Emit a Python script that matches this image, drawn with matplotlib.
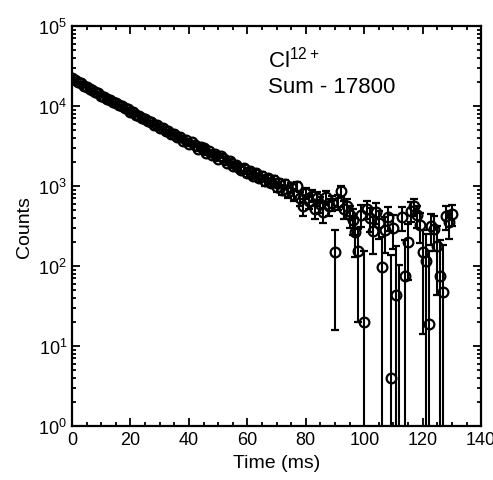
import numpy as np
import matplotlib
matplotlib.use("Agg")
import matplotlib.pyplot as plt
from matplotlib.ticker import MultipleLocator, LogLocator, NullFormatter

plt.rcParams["font.family"] = ["Liberation Sans", "DejaVu Sans"]
plt.rcParams["mathtext.fontset"] = "custom"
plt.rcParams["mathtext.rm"] = "Liberation Sans"
plt.rcParams["mathtext.it"] = "Liberation Sans"

# time bins (ms), 1 ms wide
time_ms = np.arange(0, 131)

# counts
counts = [
    22300, 20900, 19700, 19100, 17900, 17400, 16300, 15800, 14800, 14400,
    13500, 13100, 12300, 12000, 11200, 10900, 10200, 9950, 9300, 9100,
    8500, 8300, 7700, 7600, 7000, 6900, 6400, 6350, 5850, 5800,
    5350, 5300, 4850, 4900, 4450, 4450, 4050, 4100, 3700, 3750,
    3350, 3500, 3300, 2900, 3100, 2950, 2600, 2700, 2450, 2500,
    2200, 2350, 2150, 1950, 2050, 1800, 1850, 1700, 1600, 1700,
    1450, 1550, 1350, 1450, 1250, 1350, 1150, 1250, 1100, 1200,
    980, 1080, 900, 1050, 850, 960, 780, 1000, 700, 560,
    820, 650, 760, 520, 700, 600, 480, 720, 560, 620,
    150, 640, 870, 520, 560, 430, 380, 265, 154, 440,
    20, 520, 400, 275, 470, 350, 98, 280, 410, 4,
    300, 43, -30, 410, 76, 200, 490, 560, 430, 330,
    148, 117, 19, 316, 290, 178, 76, 47, 420, 355,
    450,
]

# error bars
errors = [
    200, 197, 194, 192, 189, 188, 185, 183, 181, 179,
    177, 176, 173, 173, 170, 169, 167, 167, 165, 164,
    162, 162, 160, 159, 157, 157, 156, 155, 154, 154,
    152, 152, 150, 151, 149, 149, 148, 148, 147, 147,
    145, 146, 145, 144, 145, 144, 143, 143, 142, 142,
    141, 142, 141, 141, 141, 140, 140, 140, 139, 140,
    139, 139, 138, 139, 138, 138, 138, 138, 137, 138,
    137, 137, 137, 137, 137, 137, 136, 137, 136, 136,
    136, 136, 136, 135, 136, 136, 135, 136, 136, 136,
    134, 136, 137, 135, 136, 135, 135, 134, 134, 135,
    133, 135, 135, 134, 135, 135, 134, 134, 135, 133,
    135, 134, 133, 135, 134, 134, 135, 136, 135, 135,
    134, 134, 133, 135, 134, 134, 134, 134, 135, 135,
    135,
]

fig = plt.figure(figsize=(4.93, 4.81), dpi=100)
ax = fig.add_axes([0.146, 0.112, 0.830, 0.832])

ax.set_yscale("log", nonpositive="clip")
ax.errorbar(
    time_ms, counts, yerr=errors,
    fmt="o", color="black", mfc="none", mec="black",
    markersize=7, mew=1.6, elinewidth=1.5, capsize=3, capthick=1.5,
)

ax.set_xlim(0, 140)
ax.set_ylim(1, 1e5)

ax.xaxis.set_major_locator(MultipleLocator(20))
ax.xaxis.set_minor_locator(MultipleLocator(5))
ax.yaxis.set_major_locator(LogLocator(base=10, numticks=10))
ax.yaxis.set_minor_locator(LogLocator(base=10, subs=np.arange(2, 10), numticks=10))
ax.yaxis.set_minor_formatter(NullFormatter())

ax.tick_params(which="both", direction="in", top=True, right=True, width=1.3)
ax.tick_params(which="major", length=6, labelsize=13)
ax.tick_params(which="minor", length=3)
for s in ax.spines.values():
    s.set_linewidth(1.6)

ax.set_xlabel("Time (ms)", fontsize=14)
ax.set_ylabel("Counts", fontsize=14)

ax.text(67, 3.1e4, "Cl$^{12+}$", fontsize=16)
ax.text(67, 1.5e4, "Sum - 17800", fontsize=16)

fig.savefig("out.png", dpi=100)
